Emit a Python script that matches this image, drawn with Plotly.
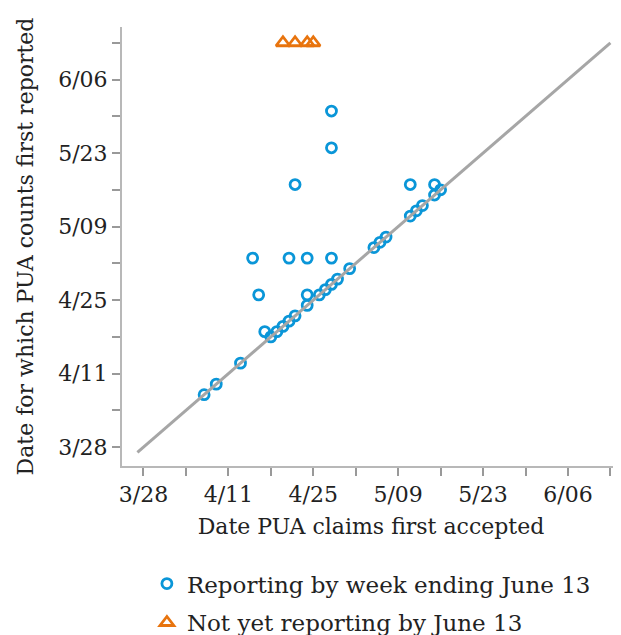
import plotly.graph_objects as go

YEAR = "2020"

# dates (month/day) PUA claims first accepted vs first reported
accepted = ["4/7", "4/9", "4/13", "4/17", "4/16", "4/15", "4/18", "4/19", "4/20", "4/21",
            "4/22", "4/22", "4/21", "4/24", "4/24", "4/24", "4/26", "4/27", "4/28", "4/29",
            "4/28", "4/28", "4/28", "5/1", "5/5", "5/6", "5/7", "5/11", "5/12", "5/13",
            "5/11", "5/15", "5/15", "5/16"]
reported = ["4/7", "4/9", "4/13", "4/19", "4/26", "5/3", "4/18", "4/19", "4/20", "4/21",
            "4/22", "5/17", "5/3", "5/3", "4/26", "4/24", "4/26", "4/27", "4/28", "4/29",
            "5/3", "5/31", "5/24", "5/1", "5/5", "5/6", "5/7", "5/11", "5/12", "5/13",
            "5/17", "5/17", "5/15", "5/16"]

# states not yet reporting, placed at the top
not_yet_accepted = ["4/20", "4/22", "4/24", "4/25"]
not_yet_reported = ["6/13", "6/13", "6/13", "6/13"]

diag = ["3/27", "6/13"]


def to_date(md):
    m, d = md.split("/")
    return f"{YEAR}-{int(m):02d}-{int(d):02d}"


BLUE = "#0a96d8"
ORANGE = "#e8740e"
FONT = "DejaVu Serif"
FSIZE = 22

fig = go.Figure()

fig.add_trace(go.Scatter(
    x=[to_date(v) for v in accepted],
    y=[to_date(v) for v in reported],
    mode="markers",
    name="Reporting by week ending June 13",
    legendgroup="a",
    marker=dict(symbol="circle-open", size=10, color=BLUE, line=dict(width=2.8, color=BLUE)),
))

fig.add_trace(go.Scatter(
    x=[to_date(v) for v in not_yet_accepted],
    y=[to_date(v) for v in not_yet_reported],
    mode="markers",
    name="Not yet reporting by June 13",
    legendgroup="b",
    marker=dict(symbol="triangle-up-open", size=12, color=ORANGE, line=dict(width=2.8, color=ORANGE)),
))

fig.add_trace(go.Scatter(
    x=[to_date(v) for v in diag],
    y=[to_date(v) for v in diag],
    mode="lines",
    line=dict(color="#a6a6a6", width=3),
    showlegend=False,
    hoverinfo="skip",
))

axis_common = dict(
    type="date",
    tick0="2020-03-28",
    dtick=14 * 86400000,
    tickformat="%-m/%d",
    showgrid=False,
    zeroline=False,
    showline=True,
    linecolor="#b8b8b8",
    linewidth=2,
    ticks="outside",
    ticklen=8,
    tickwidth=1.5,
    tickcolor="#999999",
    tickfont=dict(family=FONT, size=FSIZE, color="#222"),
    minor=dict(dtick=7 * 86400000, tick0="2020-03-28", ticks="outside",
               ticklen=8, tickwidth=1.5, tickcolor="#999999", showgrid=False),
)

fig.update_xaxes(
    **axis_common,
    range=["2020-03-24 11:00", "2020-06-14 14:00"],
    title=dict(text="Date PUA claims first accepted", font=dict(family=FONT, size=FSIZE, color="#222"),
               standoff=12),
)
fig.update_yaxes(
    **axis_common,
    range=["2020-03-24 10:00", "2020-06-16 00:00"],
    title=dict(text="Date for which PUA counts first reported", font=dict(family=FONT, size=FSIZE, color="#222"),
               standoff=18),
)

# page body adds 8px around the figure, so the figure is 8px smaller than the window
fig.update_layout(
    width=613,
    height=627,
    margin=dict(l=114, r=1, t=19, b=169, autoexpand=False),
    plot_bgcolor="white",
    paper_bgcolor="white",
    font=dict(family=FONT, size=FSIZE, color="#222"),
    legend=dict(
        x=0.05, y=-0.219, xanchor="left", yanchor="top",
        font=dict(family=FONT, size=23, color="#222"),
        bgcolor="rgba(0,0,0,0)",
        tracegroupgap=6,
    ),
)

fig.write_html("out.html")
